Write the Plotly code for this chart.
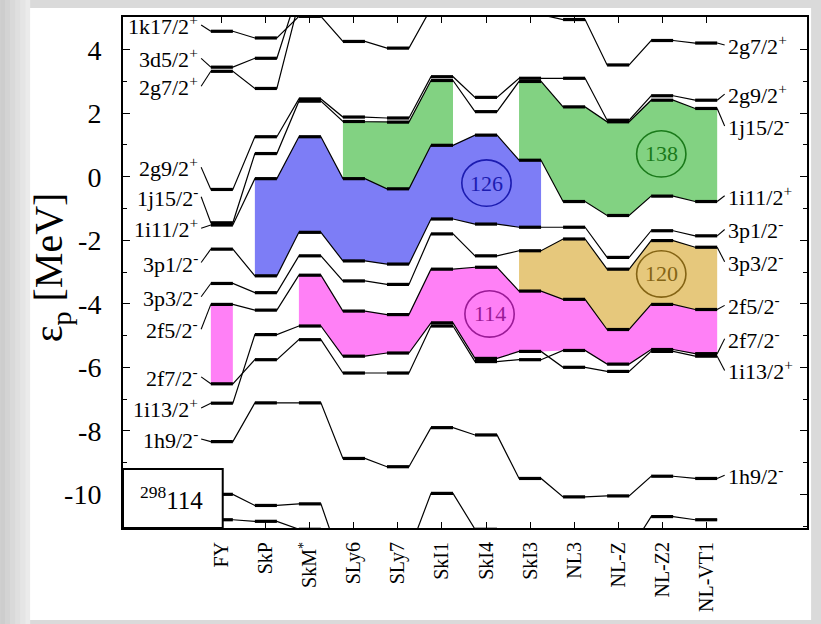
import plotly.graph_objects as go

# ---------------- data ----------------
models = ["FY", "SkP", "SkM<sup>*</sup>", "SLy6", "SLy7", "SkI1", "SkI4",
          "SkI3", "NL3", "NL-Z", "NL-Z2", "NL-VT1"]

# proton single-particle levels of 298-114 (MeV), one value per model
k17 = [4.58, 4.37, 5.05, 4.26, 4.05, 5.30, 5.60, 5.70, 5.80, 5.80, 5.80, 5.80]
d52 = [3.45, 3.73, 5.90, 6.00, 6.00, 6.00, 6.00, 6.00, 6.00, 6.00, 6.00, 6.00]
g72 = [3.32, 2.78, 5.50, 5.80, 5.80, 5.80, 5.80, 5.10, 4.95, 3.52, 4.29, 4.21]
g92 = [-0.40, 1.26, 2.45, 1.88, 1.85, 3.15, 2.50, 3.10, 3.10, 1.78, 2.55, 2.41]
j152 = [-1.45, 0.73, 2.38, 1.74, 1.72, 3.03, 2.05, 3.00, 2.20, 1.73, 2.41, 2.15]
i112 = [-1.52, -0.06, 1.26, -0.06, -0.38, 0.99, 1.31, 0.52, -0.78, -1.22, -0.61, -0.78]
p12 = [-2.28, -3.12, -1.75, -2.65, -2.75, -1.33, -1.49, -1.59, -1.59, -2.54, -1.70, -1.86]
p32 = [-3.36, -3.65, -2.49, -3.28, -3.39, -1.80, -2.49, -2.33, -1.96, -2.91, -2.01, -2.22]
f52 = [-4.02, -4.20, -3.10, -4.23, -4.34, -2.91, -2.85, -3.60, -3.86, -4.81, -4.02, -4.18]
f72 = [-6.52, -5.76, -5.13, -6.18, -6.18, -4.70, -5.82, -5.76, -5.47, -5.90, -5.44, -5.57]
i132 = [-7.13, -4.97, -4.70, -5.65, -5.55, -4.60, -5.72, -5.50, -6.00, -6.13, -5.50, -5.65]
h92 = [-8.34, -7.12, -7.12, -8.87, -9.13, -7.90, -8.13, -9.50, -10.08, -10.05, -9.43, -9.50]
lowA = [-10.00, -10.35, -10.30, -12.30, -11.80, -9.97, -11.10, -12.00, -12.00, -11.80, -10.70, -10.80]
lowB = [-10.80, -10.85, -11.10, -12.00, -12.00, -12.00, -12.00, -12.00, -12.00, -12.00, -12.00, -12.00]

left_names = ["1k17/2<sup>+</sup>", "3d5/2<sup>+</sup>", "2g7/2<sup>+</sup>", "2g9/2<sup>+</sup>",
              "1j15/2<sup>-</sup>", "1i11/2<sup>+</sup>", "3p1/2<sup>-</sup>", "3p3/2<sup>-</sup>",
              "2f5/2<sup>-</sup>", "2f7/2<sup>-</sup>", "1i13/2<sup>+</sup>", "1h9/2<sup>-</sup>"]
right_names = ["2g7/2<sup>+</sup>", "2g9/2<sup>+</sup>", "1j15/2<sup>-</sup>", "1i11/2<sup>+</sup>",
               "3p1/2<sup>-</sup>", "3p3/2<sup>-</sup>", "2f5/2<sup>-</sup>", "2f7/2<sup>-</sup>",
               "1i13/2<sup>+</sup>", "1h9/2<sup>-</sup>"]
gap_numbers = ["126", "114", "138", "120"]
y_tick_values = [-10, -8, -6, -4, -2, 0, 2, 4]
y_tick_text = ["-10", "-8", "-6", "-4", "-2", "0", "2", "4"]

# ---------------- layout constants ----------------
W = 0.25
FONT = "Liberation Serif"
left_levels = [k17, d52, g72, g92, j152, i112, p12, p32, f52, f72, i132, h92]
left_label_y = [4.78, 3.73, 2.85, 0.30, -0.63, -1.62, -2.70, -3.78, -4.80, -6.30, -7.28, -8.26]
right_levels = [g72, g92, j152, i112, p12, p32, f52, f72, i132, h92]
right_label_y = [4.15, 2.60, 1.60, -0.60, -1.66, -2.68, -4.05, -5.10, -6.10, -9.40]
circle_pos = [(6.01, -0.20), (6.08, -4.32), (9.98, 0.72), (9.98, -3.06)]
circle_col = ["#1c1cb0", "#9a1a96", "#1a7a1a", "#846414"]

n = len(models)
fig = go.Figure()


def region(top, bot, i0, i1, color):
    xt, yt, xb, yb = [], [], [], []
    for i in range(i0, i1 + 1):
        xt += [i - W, i + W]
        yt += [top[i], top[i]]
    for i in range(i1, i0 - 1, -1):
        xb += [i + W, i - W]
        yb += [bot[i], bot[i]]
    fig.add_trace(go.Scatter(x=xt + xb + [xt[0]], y=yt + yb + [yt[0]], mode="lines",
                             fill="toself", fillcolor=color, line=dict(width=0),
                             hoverinfo="skip", showlegend=False))


pink_bot = [max(a, b) for a, b in zip(f72, i132)]
PINK, BLUE, GREEN, YEL = "#ff80f6", "#7d7df6", "#82d282", "#e6c87c"
region(f52, pink_bot, 0, 0, PINK)
region(f52, pink_bot, 2, 11, PINK)
region(p32, f52, 7, 11, YEL)
region(i112, p12, 1, 7, BLUE)
region(j152, i112, 3, 5, GREEN)
region(j152, i112, 7, 11, GREEN)

all_levels = [k17, d52, g72, g92, j152, i112, p12, p32, f52, f72, i132, h92, lowA, lowB]
for lev in all_levels:
    px, py, bx, by = [], [], [], []
    for i, v in enumerate(lev):
        px += [i - W, i + W]
        py += [v, v]
        bx += [i - W, i + W, None]
        by += [v, v, None]
    fig.add_trace(go.Scatter(x=px, y=py, mode="lines", line=dict(color="black", width=1.2),
                             hoverinfo="skip", showlegend=False))
    fig.add_trace(go.Scatter(x=bx, y=by, mode="lines", line=dict(color="black", width=3.2),
                             hoverinfo="skip", showlegend=False))

annotations = []
# left labels with leader lines
for name, lev, ly in zip(left_names, left_levels, left_label_y):
    fig.add_trace(go.Scatter(x=[-0.47, -W], y=[ly, lev[0]], mode="lines",
                             line=dict(color="black", width=1.1), hoverinfo="skip",
                             showlegend=False, cliponaxis=False))
    annotations.append(dict(x=-0.49, y=ly, xref="x", yref="y", text=name, showarrow=False,
                            xanchor="right", yanchor="middle",
                            font=dict(family=FONT, size=22, color="black")))
# right labels
for name, lev, ly in zip(right_names, right_levels, right_label_y):
    fig.add_trace(go.Scatter(x=[n - 1 + W, n - 1 + 0.42], y=[lev[-1], ly], mode="lines",
                             line=dict(color="black", width=1.1), hoverinfo="skip",
                             showlegend=False, cliponaxis=False))
    annotations.append(dict(x=n - 1 + 0.44, y=ly, xref="x", yref="y", text=name, showarrow=False,
                            xanchor="left", yanchor="middle",
                            font=dict(family=FONT, size=22, color="black")))

shapes = [
    dict(type="rect", xref="paper", yref="paper", x0=-0.136, x1=1.006, y0=-0.18, y1=1.0175,
         fillcolor="white", line=dict(width=0), layer="below"),
]
# left gradient strip
grads = ["#cdcdcd", "#d3d3d3", "#d9d9d9", "#dfdfdf", "#e5e5e5", "#ebebeb"]
for k, c in enumerate(grads):
    x0 = (k * 5 - 123) / 685
    x1 = ((k + 1) * 5 - 123) / 685
    shapes.append(dict(type="rect", xref="paper", yref="paper", x0=x0, x1=x1, y0=-0.2, y1=1.05,
                       fillcolor=c, line=dict(width=0), layer="below"))

# nucleus box
shapes.append(dict(type="rect", xref="x", yref="y", x0=-2.245, x1=0.02, y0=-11.06, y1=-9.2,
                   fillcolor="white", line=dict(color="black", width=2), layer="above"))
annotations.append(dict(x=-1.15, y=-10.1, xref="x", yref="y",
                        text="<sup>298</sup>114", showarrow=False,
                        font=dict(family=FONT, size=25, color="black")))

for (cx, cy), num, col in zip(circle_pos, gap_numbers, circle_col):
    shapes.append(dict(type="circle", xref="x", yref="y", x0=cx - 0.56, x1=cx + 0.56,
                       y0=cy - 0.73, y1=cy + 0.73, line=dict(color=col, width=1.6), layer="above"))
    annotations.append(dict(x=cx, y=cy, xref="x", yref="y", text=num, showarrow=False,
                            xanchor="center", yanchor="middle",
                            font=dict(family=FONT, size=22, color=col)))

annotations.append(dict(x=-0.104, y=0.51, xref="paper", yref="paper",
                        xanchor="center", yanchor="middle",
                        text="\u03b5<sub>p</sub> [MeV]", textangle=-90, showarrow=False,
                        font=dict(family=FONT, size=40, color="black")))

fig.update_layout(
    width=821, height=624,
    margin=dict(l=123, r=13, t=17, b=92),
    paper_bgcolor="#dadada", plot_bgcolor="white",
    shapes=shapes, annotations=annotations, showlegend=False,
    xaxis=dict(range=[-2.245, 13.29], tickvals=list(range(n)), ticktext=models,
               tickangle=-90, ticks="inside", ticklen=6, tickwidth=1.2, tickcolor="black",
               showline=True, linewidth=2, linecolor="black", mirror="ticks",
               showgrid=False, zeroline=False, ticklabelstandoff=4,
               tickfont=dict(family=FONT, size=20, color="black")),
    yaxis=dict(range=[-11.06, 5.03], tickmode="array", tickvals=y_tick_values,
               ticktext=y_tick_text, ticks="inside", ticklen=7,
               tickwidth=1.2, tickcolor="black", showline=True, linewidth=2,
               linecolor="black", mirror="ticks", showgrid=False, zeroline=False,
               minor=dict(tickmode="linear", tick0=0, dtick=1, ticks="inside", ticklen=4,
                          tickcolor="black"),
               ticklabelstandoff=14,
               tickfont=dict(family=FONT, size=28, color="black")),
)

fig.write_html("out.html")
